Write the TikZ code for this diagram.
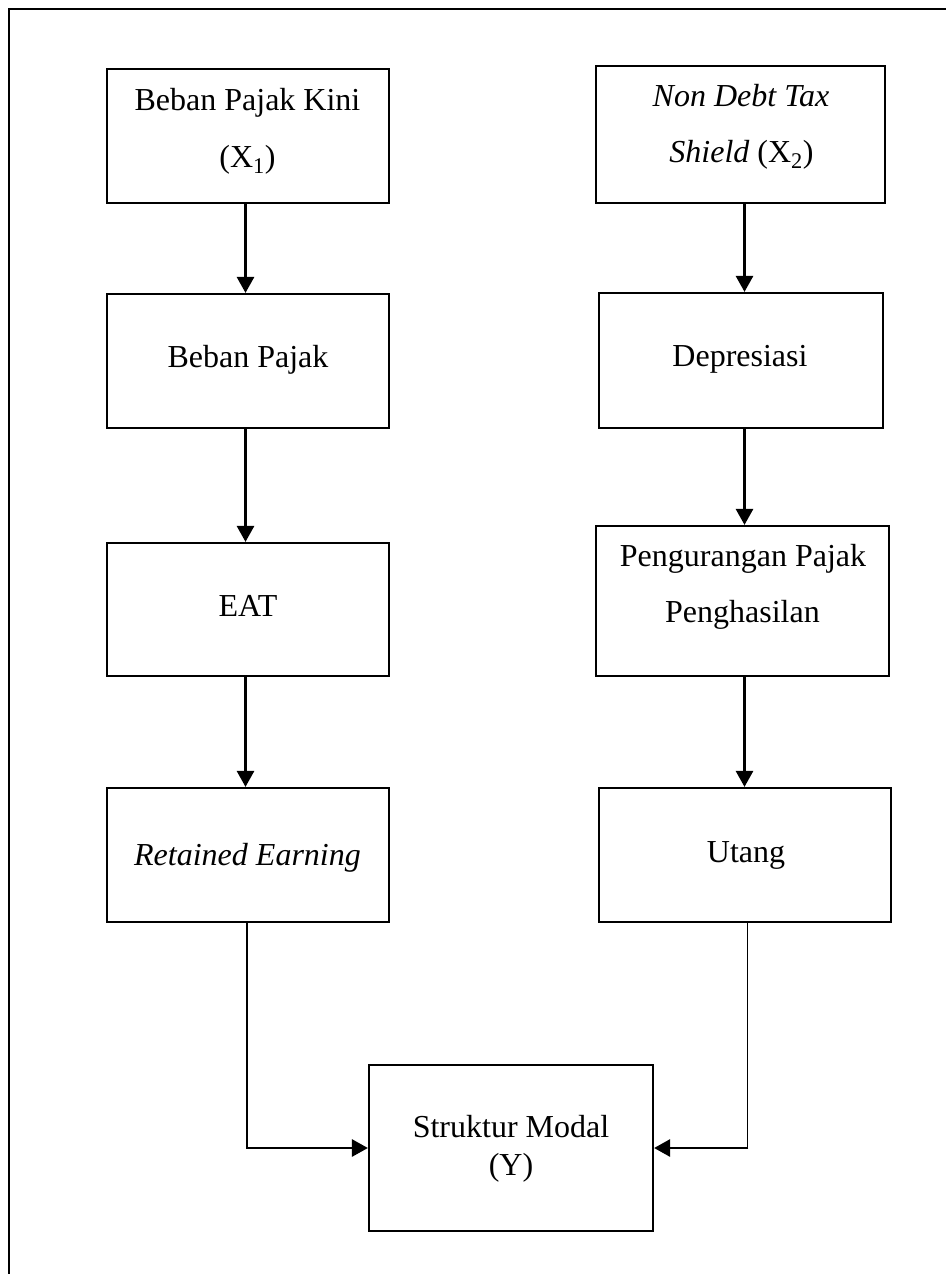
\documentclass[tikz,border=0pt]{standalone}
\usepackage{fontspec}
\setmainfont{Liberation Serif}
\usetikzlibrary{arrows.meta}
\tikzset{
  box/.style={draw=black, line width=2.2pt, rectangle, inner sep=0pt, fill=none},
  txt/.style={anchor=base, inner sep=0pt, font=\fontsize{32}{38}\selectfont},
  arr/.style={line width=2.8pt, -{Triangle[length=16pt,width=17pt]}},
  feed/.style={line width=1.7pt},
  frame/.style={line width=2.2pt}
}
\begin{document}
\begin{tikzpicture}[x=1pt,y=-1pt]
\useasboundingbox (0,0) rectangle (946,1274);
% frame
\coordinate (fa) at (9,1274);
\coordinate (fb) at (9,9);
\coordinate (fc) at (946,9);
\draw[frame] (fa) -- (fb) -- (fc);
% boxes
\node[box, minimum width=282, minimum height=134] (b1) at (248,136) {};
\node[box, minimum width=289, minimum height=137] (b2) at (740.5,134.5) {};
\node[box, minimum width=282, minimum height=134] (b3) at (248,361) {};
\node[box, minimum width=284, minimum height=135] (b4) at (741,360.5) {};
\node[box, minimum width=282, minimum height=133] (b5) at (248,609.5) {};
\node[box, minimum width=293, minimum height=150] (b6) at (742.5,601) {};
\node[box, minimum width=282, minimum height=134] (b7) at (248,855) {};
\node[box, minimum width=292, minimum height=134] (b8) at (745,855) {};
\node[box, minimum width=284, minimum height=166] (b9) at (511,1148) {};
% texts
\node[txt] (t1a) at (247.5,110) {Beban Pajak Kini};
\node[txt] (t1b) at (247.5,167) {(X\textsubscript{1})};
\node[txt] (t2a) at (741,106) {\textit{Non Debt Tax}};
\node[txt] (t2b) at (741.5,162) {\textit{Shield} (X\textsubscript{2})};
\node[txt] (t3) at (248,367) {Beban Pajak};
\node[txt] (t4) at (740,366) {Depresiasi};
\node[txt] (t5) at (248,616) {EAT};
\node[txt] (t6a) at (743,566) {Pengurangan Pajak};
\node[txt] (t6b) at (742.5,622) {Penghasilan};
\node[txt] (t7) at (247.5,865) {\textit{Retained Earning}};
\node[txt] (t8) at (746,862) {Utang};
\node[txt] (t9a) at (511,1137) {Struktur Modal};
\node[txt] (t9b) at (511,1175) {(Y)};
% arrow columns
\coordinate (lx) at (245.5,0);
\coordinate (rx) at (744.5,0);
\draw[arr] (b1.south -| lx) -- (b3.north -| lx);
\draw[arr] (b3.south -| lx) -- (b5.north -| lx);
\draw[arr] (b5.south -| lx) -- (b7.north -| lx);
\draw[arr] (b2.south -| rx) -- (b4.north -| rx);
\draw[arr] (b4.south -| rx) -- (b6.north -| rx);
\draw[arr] (b6.south -| rx) -- (b8.north -| rx);
% feeds into Struktur Modal
\coordinate (lc) at (247,1148);
\coordinate (rc) at (747.5,1148);
\draw[feed] (b7.south -| lc) -- (lc);
\draw[arr] ([xshift=-0.85pt]lc) -- (b9.west);
\draw[feed] (b8.south -| rc) -- (rc);
\draw[arr] ([xshift=0.85pt]rc) -- (b9.east);
\end{tikzpicture}
\end{document}
